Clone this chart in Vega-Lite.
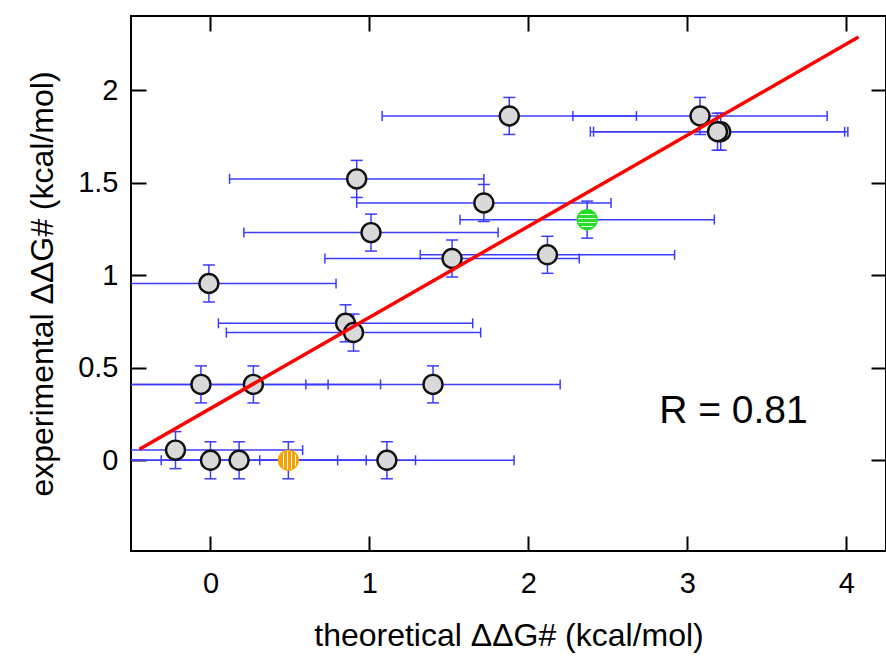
{
  "$schema": "https://vega.github.io/schema/vega-lite/v6.json",
  "width": 755,
  "height": 535,
  "autosize": "none",
  "padding": {"left": 131, "top": 16, "right": 0, "bottom": 105},
  "config": {
    "font": "Liberation Sans",
    "view": {"stroke": "#000000", "strokeWidth": 2},
    "axis": {
      "domain": false,
      "grid": false,
      "tickColor": "#000000",
      "tickWidth": 2,
      "tickSize": -15,
      "labelFont": "Liberation Sans",
      "labelFontSize": 29,
      "labelColor": "#000000",
      "titleFont": "Liberation Sans",
      "titleFontSize": 32,
      "titleFontWeight": "normal",
      "titleColor": "#000000"
    }
  },
  "datasets": {
    "pts": [
      {"x": 1.88, "y": 1.86, "xlo": 1.08, "xhi": 2.68, "ylo": 1.76, "yhi": 1.96, "g": "n"},
      {"x": 3.08, "y": 1.86, "xlo": 2.28, "xhi": 3.88, "ylo": 1.76, "yhi": 1.96, "g": "n"},
      {"x": 3.21, "y": 1.775, "xlo": 2.41, "xhi": 4.01, "ylo": 1.675, "yhi": 1.875, "g": "n"},
      {"x": 3.19, "y": 1.775, "xlo": 2.39, "xhi": 3.99, "ylo": 1.675, "yhi": 1.875, "g": "n"},
      {"x": 0.92, "y": 1.52, "xlo": 0.12, "xhi": 1.72, "ylo": 1.42, "yhi": 1.62, "g": "n"},
      {"x": 1.72, "y": 1.39, "xlo": 0.92, "xhi": 2.52, "ylo": 1.29, "yhi": 1.49, "g": "n"},
      {"x": 2.37, "y": 1.3, "xlo": 1.57, "xhi": 3.17, "ylo": 1.2, "yhi": 1.4, "g": "green"},
      {"x": 1.01, "y": 1.23, "xlo": 0.21, "xhi": 1.81, "ylo": 1.13, "yhi": 1.33, "g": "n"},
      {"x": 2.12, "y": 1.11, "xlo": 1.32, "xhi": 2.92, "ylo": 1.01, "yhi": 1.21, "g": "n"},
      {"x": 1.52, "y": 1.09, "xlo": 0.72, "xhi": 2.32, "ylo": 0.99, "yhi": 1.19, "g": "n"},
      {"x": -0.01, "y": 0.955, "xlo": -0.81, "xhi": 0.79, "ylo": 0.855, "yhi": 1.055, "g": "n"},
      {"x": 0.85, "y": 0.74, "xlo": 0.05, "xhi": 1.65, "ylo": 0.64, "yhi": 0.84, "g": "n"},
      {"x": 0.9, "y": 0.69, "xlo": 0.1, "xhi": 1.7, "ylo": 0.59, "yhi": 0.79, "g": "n"},
      {"x": -0.06, "y": 0.41, "xlo": -0.86, "xhi": 0.74, "ylo": 0.31, "yhi": 0.51, "g": "n"},
      {"x": 0.27, "y": 0.41, "xlo": -0.53, "xhi": 1.07, "ylo": 0.31, "yhi": 0.51, "g": "n"},
      {"x": 1.4, "y": 0.41, "xlo": 0.6, "xhi": 2.2, "ylo": 0.31, "yhi": 0.51, "g": "n"},
      {"x": -0.22, "y": 0.055, "xlo": -1.02, "xhi": 0.58, "ylo": -0.045, "yhi": 0.155, "g": "n"},
      {"x": 0.0, "y": 0.0, "xlo": -0.8, "xhi": 0.8, "ylo": -0.1, "yhi": 0.1, "g": "n"},
      {"x": 0.18, "y": 0.0, "xlo": -0.62, "xhi": 0.98, "ylo": -0.1, "yhi": 0.1, "g": "n"},
      {"x": 0.49, "y": 0.0, "xlo": -0.31, "xhi": 1.29, "ylo": -0.1, "yhi": 0.1, "g": "orange"},
      {"x": 1.11, "y": 0.0, "xlo": 0.31, "xhi": 1.91, "ylo": -0.1, "yhi": 0.1, "g": "n"}
    ],
    "fit": [
      {"x": -0.447, "y": 0.06},
      {"x": 4.077, "y": 2.286}
    ],
    "note": [
      {"x": 3.29, "y": 0.2, "label": "R = 0.81"}
    ]
  },
  "layer": [
    {
      "data": {"name": "pts"},
      "mark": {"type": "rule", "color": "#3c3cff", "strokeWidth": 1.5, "clip": true},
      "encoding": {
        "x": {
          "field": "xlo", "type": "quantitative",
          "scale": {"domain": [-0.5, 4.25], "nice": false, "zero": false},
          "axis": {"orient": "bottom", "values": [0, 1, 2, 3, 4], "format": "~g", "labelPadding": 33, "title": "theoretical ΔΔG# (kcal/mol)", "titlePadding": 22}
        },
        "x2": {"field": "xhi"},
        "y": {
          "field": "y", "type": "quantitative",
          "scale": {"domain": [-0.49, 2.4], "nice": false, "zero": false},
          "axis": {"orient": "left", "values": [0, 0.5, 1, 1.5, 2], "format": "~g", "labelPadding": 28, "title": "experimental ΔΔG# (kcal/mol)", "titlePadding": 18}
        }
      }
    },
    {
      "data": {"name": "pts"},
      "mark": {"type": "rule", "color": "#3c3cff", "strokeWidth": 1.5, "clip": true},
      "encoding": {
        "x": {"field": "x", "type": "quantitative", "axis": null},
        "y": {"field": "ylo", "type": "quantitative", "axis": null},
        "y2": {"field": "yhi"}
      }
    },
    {
      "data": {"name": "pts"},
      "mark": {"type": "tick", "orient": "vertical", "color": "#3c3cff", "size": 10, "thickness": 1.5, "opacity": 1, "clip": true},
      "encoding": {
        "x": {"field": "xlo", "type": "quantitative", "axis": null},
        "y": {"field": "y", "type": "quantitative", "axis": null}
      }
    },
    {
      "data": {"name": "pts"},
      "mark": {"type": "tick", "orient": "vertical", "color": "#3c3cff", "size": 10, "thickness": 1.5, "opacity": 1, "clip": true},
      "encoding": {
        "x": {"field": "xhi", "type": "quantitative", "axis": null},
        "y": {"field": "y", "type": "quantitative", "axis": null}
      }
    },
    {
      "data": {"name": "pts"},
      "mark": {"type": "tick", "orient": "horizontal", "color": "#3c3cff", "size": 12, "thickness": 1.5, "opacity": 1, "clip": true},
      "encoding": {
        "x": {"field": "x", "type": "quantitative", "axis": null},
        "y": {"field": "ylo", "type": "quantitative", "axis": null}
      }
    },
    {
      "data": {"name": "pts"},
      "mark": {"type": "tick", "orient": "horizontal", "color": "#3c3cff", "size": 12, "thickness": 1.5, "opacity": 1, "clip": true},
      "encoding": {
        "x": {"field": "x", "type": "quantitative", "axis": null},
        "y": {"field": "yhi", "type": "quantitative", "axis": null}
      }
    },
    {
      "data": {"name": "pts"},
      "transform": [{"filter": "datum.g === 'n'"}],
      "mark": {"type": "point", "shape": "circle", "size": 360, "filled": true, "fill": "#d9d9d9", "stroke": "#111111", "strokeWidth": 2.4, "opacity": 1},
      "encoding": {
        "x": {"field": "x", "type": "quantitative", "axis": null},
        "y": {"field": "y", "type": "quantitative", "axis": null}
      }
    },
    {
      "data": {"name": "pts"},
      "transform": [{"filter": "datum.g === 'orange'"}],
      "mark": {
        "type": "point", "shape": "circle", "size": 390, "opacity": 1,
        "fill": {"gradient": "linear", "x1": 0, "y1": 0, "x2": 1, "y2": 0, "stops": [
          {"offset": 0, "color": "#f5a300"}, {"offset": 0.22, "color": "#f5a300"},
          {"offset": 0.22, "color": "#ffffff"}, {"offset": 0.28, "color": "#ffffff"},
          {"offset": 0.28, "color": "#f5a300"}, {"offset": 0.42, "color": "#f5a300"},
          {"offset": 0.42, "color": "#ffffff"}, {"offset": 0.48, "color": "#ffffff"},
          {"offset": 0.48, "color": "#f5a300"}, {"offset": 0.62, "color": "#f5a300"},
          {"offset": 0.62, "color": "#ffffff"}, {"offset": 0.68, "color": "#ffffff"},
          {"offset": 0.68, "color": "#f5a300"}, {"offset": 0.82, "color": "#f5a300"},
          {"offset": 0.82, "color": "#ffffff"}, {"offset": 0.88, "color": "#ffffff"},
          {"offset": 0.88, "color": "#f5a300"}, {"offset": 1, "color": "#f5a300"}
        ]},
        "stroke": "#f5a300", "strokeWidth": 1.5
      },
      "encoding": {
        "x": {"field": "x", "type": "quantitative", "axis": null},
        "y": {"field": "y", "type": "quantitative", "axis": null}
      }
    },
    {
      "data": {"name": "pts"},
      "transform": [{"filter": "datum.g === 'green'"}],
      "mark": {
        "type": "point", "shape": "circle", "size": 390, "opacity": 1,
        "fill": {"gradient": "linear", "x1": 0, "y1": 0, "x2": 0, "y2": 1, "stops": [
          {"offset": 0, "color": "#22e022"}, {"offset": 0.22, "color": "#22e022"},
          {"offset": 0.22, "color": "#ffffff"}, {"offset": 0.28, "color": "#ffffff"},
          {"offset": 0.28, "color": "#22e022"}, {"offset": 0.42, "color": "#22e022"},
          {"offset": 0.42, "color": "#ffffff"}, {"offset": 0.48, "color": "#ffffff"},
          {"offset": 0.48, "color": "#22e022"}, {"offset": 0.62, "color": "#22e022"},
          {"offset": 0.62, "color": "#ffffff"}, {"offset": 0.68, "color": "#ffffff"},
          {"offset": 0.68, "color": "#22e022"}, {"offset": 0.82, "color": "#22e022"},
          {"offset": 0.82, "color": "#ffffff"}, {"offset": 0.88, "color": "#ffffff"},
          {"offset": 0.88, "color": "#22e022"}, {"offset": 1, "color": "#22e022"}
        ]},
        "stroke": "#22e022", "strokeWidth": 1.5
      },
      "encoding": {
        "x": {"field": "x", "type": "quantitative", "axis": null},
        "y": {"field": "y", "type": "quantitative", "axis": null}
      }
    },
    {
      "data": {"name": "fit"},
      "mark": {"type": "line", "color": "#ff0000", "strokeWidth": 3.5, "clip": true},
      "encoding": {
        "x": {"field": "x", "type": "quantitative", "axis": {"orient": "top", "values": [0, 1, 2, 3, 4], "labels": false, "title": null}},
        "y": {"field": "y", "type": "quantitative", "axis": {"orient": "right", "values": [0, 0.5, 1, 1.5, 2], "labels": false, "title": null}}
      }
    },
    {
      "data": {"name": "note"},
      "mark": {"type": "text", "fontSize": 39, "font": "Liberation Sans", "align": "center", "baseline": "alphabetic", "color": "#000000"},
      "encoding": {
        "x": {"field": "x", "type": "quantitative", "axis": null},
        "y": {"field": "y", "type": "quantitative", "axis": null},
        "text": {"field": "label"}
      }
    }
  ],
  "resolve": {"axis": {"x": "independent", "y": "independent"}}
}
